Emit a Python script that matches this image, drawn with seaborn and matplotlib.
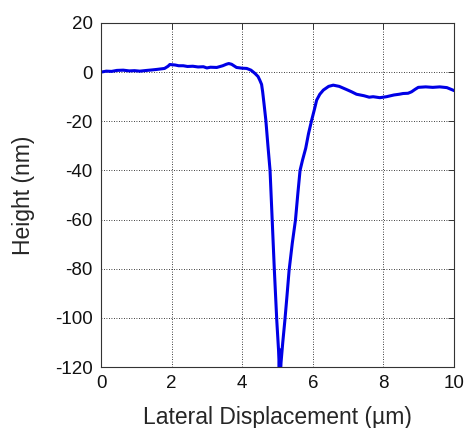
import matplotlib
matplotlib.use("Agg")
import matplotlib.pyplot as plt
import seaborn as sns
import pandas as pd

x_um = [0, 0.15, 0.3, 0.45, 0.63, 0.8, 0.95, 1.1, 1.3, 1.45, 1.58, 1.8, 1.9, 1.95, 2.1, 2.2, 2.33, 2.45,
        2.6, 2.75, 2.9, 3.0, 3.1, 3.28, 3.45, 3.55, 3.62, 3.7, 3.84, 4.0, 4.13, 4.25, 4.36, 4.45, 4.5,
        4.55, 4.58, 4.62, 4.67, 4.73, 4.79, 4.85, 4.91, 4.98, 5.03, 5.05, 5.07, 5.09, 5.15, 5.21, 5.27,
        5.33, 5.42, 5.51, 5.58, 5.64, 5.71, 5.8, 5.88, 5.97, 6.05, 6.11, 6.2, 6.3, 6.45, 6.58, 6.75,
        6.96, 7.1, 7.24, 7.45, 7.6, 7.71, 7.9, 8.09, 8.3, 8.45, 8.56, 8.7, 8.8, 8.9, 8.99, 9.2, 9.4,
        9.6, 9.8, 9.97, 10.0]
height_nm = [0, 0.4, 0.3, 0.7, 0.8, 0.5, 0.6, 0.4, 0.7, 0.9, 1.1, 1.5, 2.4, 3.1, 2.9, 2.6, 2.6, 2.3,
             2.4, 2.1, 2.2, 1.7, 2.0, 1.9, 2.6, 3.2, 3.5, 3.2, 1.9, 1.6, 1.5, 0.8, -0.5, -1.8, -3.3,
             -5.0, -8.0, -13.0, -19.5, -30.0, -40.0, -60.0, -80.0, -101.0, -113.0, -120.0, -113.0, -120.0, -110.0, -101.0, -91.0,
             -80.6, -69.6, -60.2, -49.0, -40.0, -35.8, -31.0, -25.0, -19.5, -15.0, -11.4, -9.0, -7.3, -5.8, -5.3, -5.8,
             -7.1, -8.0, -9.0, -9.6, -10.2, -10.0, -10.4, -10.0, -9.3, -9.0, -8.7, -8.6, -8.0, -7.0, -6.2, -6.0, -6.2,
             -6.0, -6.3, -7.3, -7.5]

xticks = [0, 2, 4, 6, 8, 10]
yticks = [-120, -100, -80, -60, -40, -20, 0, 20]

df = pd.DataFrame({"x": x_um, "y": height_nm})

sns.set_style("white")
plt.rcParams["font.family"] = ["Liberation Sans", "DejaVu Sans"]

fig = plt.figure(figsize=(4.67, 4.28), dpi=100)
ax = fig.add_axes([0.2163, 0.1425, 0.7557, 0.8038])
sns.lineplot(data=df, x="x", y="y", ax=ax, color="#0000e6", linewidth=2.2, sort=False)

ax.set_xlim(0, 10)
ax.set_ylim(-120, 20)
ax.set_xticks(xticks)
ax.set_yticks(yticks)
ax.set_xticklabels([str(t) for t in xticks])
ax.set_yticklabels([str(t) for t in yticks])
ax.grid(True, color="black", linestyle=(0, (1, 2)), linewidth=0.6)
for s in ax.spines.values():
    s.set_visible(True)
    s.set_color("#333333")
    s.set_linewidth(0.8)
ax.tick_params(direction="in", length=4, width=0.7, top=True, right=True, labelsize=13.5,
               colors="#333333", labelcolor="#111111", pad=6)
ax.set_xlabel("Lateral Displacement (µm)", fontsize=16.5, labelpad=10)
ax.set_ylabel("Height (nm)", fontsize=16.5, labelpad=14)

fig.savefig("out.png", dpi=100)
